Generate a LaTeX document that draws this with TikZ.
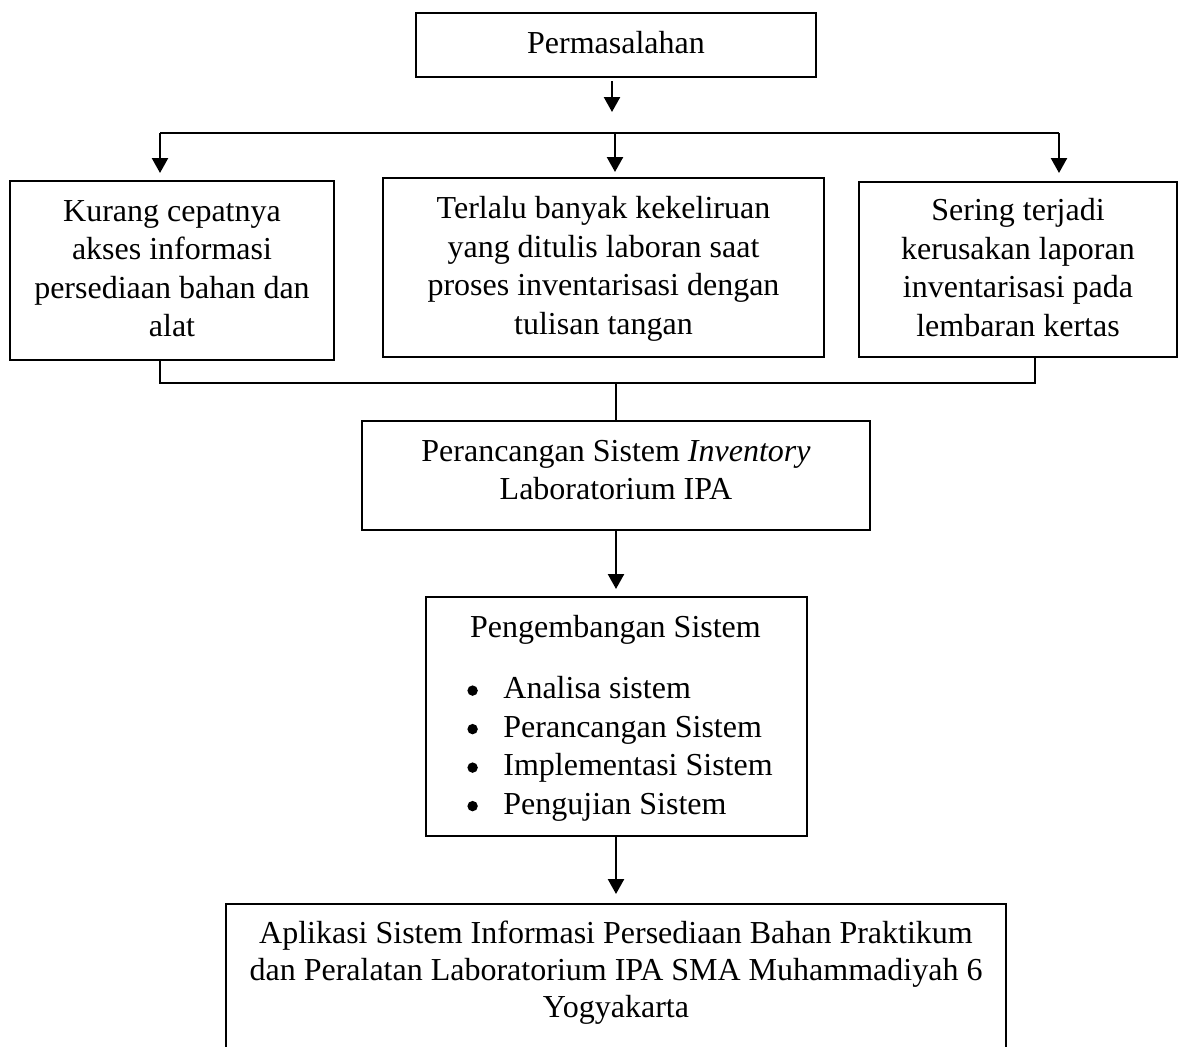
\documentclass[tikz,border=0pt]{standalone}
\usepackage{fontspec}
\setmainfont{Liberation Serif}
\usetikzlibrary{arrows.meta}
\newcommand\lstbullet{\makebox[18pt][l]{\tikz[baseline=0pt]\fill[black] (2.6pt,4pt) circle[radius=2.6pt];}}
\begin{document}
\begin{tikzpicture}[x=0.5pt,y=-0.5pt,
  box/.style={draw, line width=1pt, inner sep=0pt, outer sep=0pt},
  txt/.style={font=\fontsize{16pt}{19.25pt}\selectfont, align=center, inner sep=0pt, anchor=north},
  conn/.style={line width=1.2pt},
  arr/.style={line width=1.2pt, -{Triangle[width=8pt,length=7.5pt]}}]
\useasboundingbox (0,0) rectangle (1179,1046);
\clip (0,0) rectangle (1179,1046);
% boxes
\node[box, minimum width=200pt, minimum height=32pt] (perm) at (616,45) {};
\node[box, minimum width=162pt, minimum height=89.5pt] (k1) at (172,270.5) {};
\node[box, minimum width=220.5pt, minimum height=89.5pt] (k2) at (603.5,267.5) {};
\node[box, minimum width=159pt, minimum height=87.5pt] (k3) at (1018,269.5) {};
\node[box, minimum width=254pt, minimum height=54.5pt] (pr) at (616,475.5) {};
\node[box, minimum width=190.5pt, minimum height=119.5pt] (pg) at (616,716.5) {};
\node[box, minimum width=390pt, minimum height=78pt] (fin) at (616,982) {};
% texts
\node[txt] (t0) at (616,31) {Permasalahan};
\node[txt] (t1) at (172,200) {Kurang cepatnya\\akses informasi\\persediaan bahan dan\\alat};
\node[txt] (t2) at (603.5,196) {Terlalu banyak kekeliruan\\yang ditulis laboran saat\\proses inventarisasi dengan\\tulisan tangan};
\node[txt] (t3) at (1018,198) {Sering terjadi\\kerusakan laporan\\inventarisasi pada\\lembaran kertas};
\node[txt] (t4) at (616,439.5) {Perancangan Sistem \textit{Inventory}\\Laboratorium IPA};
\node[txt] (t5) at (615.5,615) {Pengembangan Sistem};
\node[txt, align=left, anchor=north west] (t6) at (467,676) {%
  \lstbullet Analisa sistem\\
  \lstbullet Perancangan Sistem\\
  \lstbullet Implementasi Sistem\\
  \lstbullet Pengujian Sistem};
\node[txt, font=\fontsize{16pt}{18.5pt}\selectfont] (t7) at (616,921) {Aplikasi Sistem Informasi Persediaan Bahan Praktikum\\dan Peralatan Laboratorium IPA SMA Muhammadiyah 6\\Yogyakarta};
% connectors
\coordinate (p0) at (612,81);
\coordinate (p1) at (612,112);
\draw[arr] (p0) -- (p1);
\coordinate (bl) at (160,133);
\coordinate (bm) at (615,133);
\coordinate (br) at (1059,133);
\draw[conn] (bl) -- (br);
\draw[arr, shorten >=4pt] (bl) -- (bl |- k1.north);
\draw[arr, shorten >=3pt] (bm) -- (bm |- k2.north);
\draw[arr, shorten >=4.5pt] (br) -- (br |- k3.north);
\coordinate (jl) at (160,383);
\coordinate (jm) at (616,383);
\coordinate (jr) at (1035,383);
\draw[conn] (jl |- k1.south) -- (jl) -- (jr) -- (jr |- k3.south);
\draw[conn] (jm) -- (pr.north);
\draw[arr, shorten >=4pt] (pr.south) -- (pr.south |- pg.north);
\draw[arr, shorten >=5pt] (pg.south) -- (pg.south |- fin.north);
\end{tikzpicture}
\end{document}
